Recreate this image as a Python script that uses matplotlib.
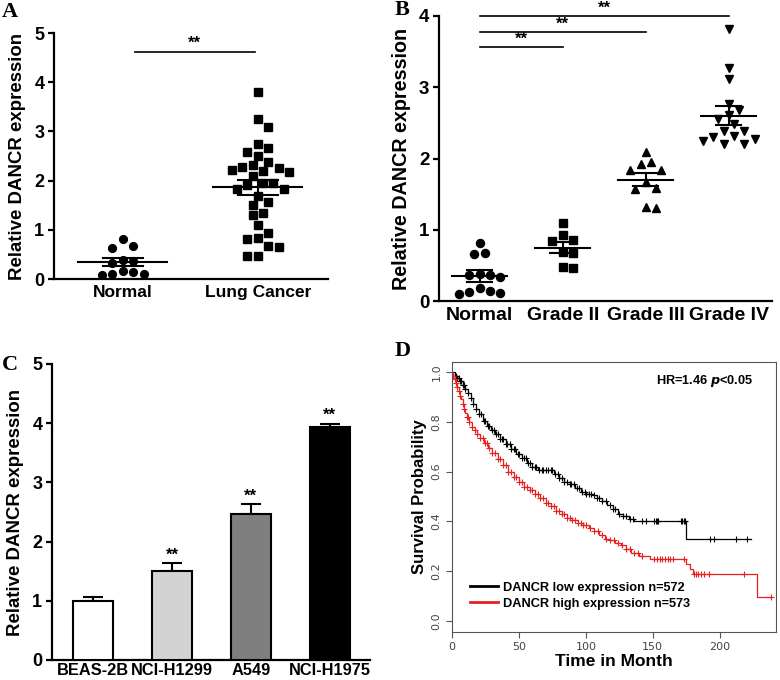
import numpy as np
import matplotlib
matplotlib.use("Agg")
import matplotlib.pyplot as plt
from matplotlib.lines import Line2D

plt.rcParams['font.family'] = ['Liberation Sans', 'DejaVu Sans']

# ---- panel A / B: scatter data ----
normal_a = [0.81, 0.64, 0.67, 0.37, 0.32, 0.39, 0.17, 0.10, 0.08, 0.10, 0.15]
cancer_a = [3.80, 3.26, 3.09, 2.74, 2.58, 2.67, 2.51, 2.37, 2.31, 2.26, 2.28,
            2.19, 2.17, 2.21, 2.09, 1.95, 1.96, 1.91, 1.83, 1.82, 1.69, 1.57,
            1.51, 1.34, 1.30, 1.09, 0.93, 0.81, 0.83, 0.66, 0.67, 0.47, 0.47]
groups_a = ["Normal", "Lung Cancer"]
mean_a = [0.35, 1.86]
sem_a = [0.08, 0.15]

groups_b = ["Normal", "Grade II", "Grade III", "Grade IV"]
normal_b = [0.82, 0.66, 0.68, 0.34, 0.36, 0.38, 0.36, 0.18, 0.12, 0.10, 0.11, 0.14]
grade2 = [1.10, 0.93, 0.84, 0.85, 0.69, 0.68, 0.46, 0.48]
grade3 = [2.09, 1.95, 1.92, 1.84, 1.84, 1.67, 1.58, 1.57, 1.30, 1.32]
grade4 = [3.82, 3.27, 3.12, 2.76, 2.68, 2.61, 2.55, 2.48, 2.38, 2.38,
          2.30, 2.24, 2.21, 2.21, 2.28, 2.31]
mean_b = [0.35, 0.75, 1.70, 2.60]
sem_b = [0.08, 0.08, 0.09, 0.13]
markers_b = ["o", "s", "^", "v"]

# ---- panel C: bars ----
cells = ["BEAS-2B", "NCI-H1299", "A549", "NCI-H1975"]
cell_vals = [1.00, 1.50, 2.47, 3.94]
cell_err = [0.07, 0.14, 0.16, 0.05]
cell_colors = ["white", "#d3d3d3", "#7f7f7f", "black"]

# ---- panel D: Kaplan-Meier steps ----
low_t = [0, 2, 4, 6, 8, 10, 12, 14, 16, 18, 20, 23, 26, 29, 32, 36, 40, 44, 48,
         52, 56, 60, 64, 72, 76, 80, 84, 88, 92, 96, 100, 105, 108, 112, 116,
         120, 124, 128, 132, 136, 175, 223]
low_s = [1.0, .985, .975, .962, .948, .932, .915, .895, .872, .85, .83, .805,
         .785, .765, .75, .73, .71, .69, .67, .655, .635, .62, .605, .605, .59,
         .575, .56, .55, .535, .52, .51, .505, .495, .48, .465, .45, .43, .42,
         .41, .40, .33, .33]
high_t = [0, 1, 2, 3, 4, 5, 6, 7, 8, 9, 10, 11, 13, 15, 17, 19, 21, 24, 27, 30,
          34, 38, 42, 46, 50, 54, 58, 62, 66, 70, 74, 78, 82, 86, 90, 94, 98,
          102, 106, 110, 114, 118, 122, 126, 130, 134, 140, 148, 175, 178, 180,
          228, 238]
high_s = [1.0, .985, .97, .955, .94, .925, .905, .89, .87, .85, .835, .82, .8,
          .78, .765, .75, .735, .715, .695, .675, .65, .625, .6, .58, .56, .54,
          .525, .51, .495, .475, .46, .44, .43, .415, .405, .395, .385, .375,
          .36, .345, .33, .325, .315, .305, .29, .275, .26, .25, .23, .21, .19,
          .095, .095]
low_cens = [2, 3, 4, 5, 6, 7, 8, 9, 10, 12, 14, 16, 18, 20, 22, 24, 25, 27, 28,
            30, 31, 33, 34, 36, 37, 38, 40, 41, 43, 44, 46, 47, 49, 50, 52, 54,
            55, 57, 58, 60, 62, 63, 65, 67, 68, 70, 72, 74, 75, 77, 79, 80, 82,
            84, 86, 88, 89, 91, 93, 95, 97, 99, 100, 102, 104, 106, 108, 110,
            112, 115, 118, 120, 122, 125, 128, 130, 133, 135, 142, 145, 151,
            152, 153, 154, 171, 172, 173, 174, 193, 196, 212, 220]
high_cens = [1, 2, 3, 4, 5, 6, 8, 9, 11, 12, 13, 15, 17, 19, 21, 23, 25, 26, 28,
             30, 32, 34, 36, 38, 40, 42, 44, 46, 48, 50, 52, 54, 56, 58, 60, 62,
             64, 66, 68, 70, 72, 74, 76, 78, 80, 82, 84, 86, 88, 90, 92, 94, 96,
             98, 100, 103, 106, 109, 112, 115, 118, 121, 124, 127, 130, 133,
             136, 139, 142, 151, 153, 155, 157, 159, 161, 163, 165, 173, 181,
             182, 184, 186, 188, 192, 218, 238]

fig = plt.figure(figsize=(7.8, 6.8), dpi=100)
W, H = 780.0, 680.0


def add_axes(l, t, r, b):
    return fig.add_axes([l / W, 1 - b / H, (r - l) / W, (b - t) / H])


def swarm(ax, x0, vals, gap=10.0, step=5.2):
    tr = ax.transData
    placed = []
    offs = np.zeros(len(vals))
    cands = [0.0]
    for n in range(1, 30):
        cands += [n * step, -n * step]
    for i in np.argsort(vals)[::-1]:
        cx, cy = tr.transform((x0, vals[i]))
        for c in cands:
            if all((cx + c - px) ** 2 + (cy - py) ** 2 >= gap ** 2 for px, py in placed):
                break
        placed.append((cx + c, cy))
        offs[i] = c
    ppu = tr.transform((1, 0))[0] - tr.transform((0, 0))[0]
    return x0 + offs / ppu


def style_prism(ax, ysize=13, xsize=12):
    for s in ["top", "right"]:
        ax.spines[s].set_visible(False)
    for s in ["left", "bottom"]:
        ax.spines[s].set_linewidth(1.6)
    ax.tick_params(axis='y', width=1.6, length=4, labelsize=ysize, pad=3)
    ax.tick_params(axis='x', length=0, labelsize=xsize, pad=4)
    for lab in ax.get_xticklabels() + ax.get_yticklabels():
        lab.set_fontweight('bold')


def mean_sem(ax, x, m, e, hw=0.33, cw=0.15):
    ax.plot([x - hw, x + hw], [m, m], color='black', lw=1.5, zorder=4)
    ax.plot([x, x], [m - e, m + e], color='black', lw=1.5, zorder=4)
    for yy in (m - e, m + e):
        ax.plot([x - cw, x + cw], [yy, yy], color='black', lw=1.5, zorder=4)


# ================= A =================
axA = add_axes(54, 33, 328, 279)
axA.set_xlim(-0.51, 1.52)
axA.set_ylim(0, 5)
for i, (vals, mk) in enumerate([(normal_a, "o"), (cancer_a, "s")]):
    xs = swarm(axA, i, vals)
    axA.plot(xs, vals, mk, color='black', ms=5.6 if mk == "o" else 5.2,
             ls='none', zorder=3)
    mean_sem(axA, i, mean_a[i], sem_a[i])
axA.plot([0.09, 0.98], [4.61, 4.61], color='black', lw=1.2, clip_on=False)
axA.text(0.53, 4.64, "**", ha='center', va='bottom', fontsize=12, fontweight='bold')
axA.set_xticks([0, 1])
axA.set_xticklabels(groups_a)
axA.set_yticks(range(6))
style_prism(axA, ysize=13, xsize=12.5)
axA.set_ylabel("Relative DANCR expression", fontsize=13.4, fontweight='bold', labelpad=6)

# ================= B =================
axB = add_axes(439, 16, 772, 301)
axB.set_xlim(-0.49, 3.52)
axB.set_ylim(0, 4)
for i, vals in enumerate([normal_b, grade2, grade3, grade4]):
    xs = swarm(axB, i, vals)
    axB.plot(xs, vals, markers_b[i], color='black', ms=5.8, ls='none', zorder=3,
             clip_on=False)
    mean_sem(axB, i, mean_b[i], sem_b[i])
for end, h in [(3, 4.0), (2, 3.78), (1, 3.56)]:
    axB.plot([0, end], [h, h], color='black', lw=1.2, clip_on=False)
    axB.text(end / 2.0, h + 0.005, "**", ha='center', va='bottom', fontsize=12,
             fontweight='bold', clip_on=False)
axB.set_xticks(range(4))
axB.set_xticklabels(groups_b)
axB.set_yticks(range(5))
style_prism(axB, ysize=13.5, xsize=14)
axB.set_ylabel("Relative DANCR expression", fontsize=14.2, fontweight='bold', labelpad=6)

# ================= C =================
axC = add_axes(52, 364, 370, 660)
axC.set_xlim(-0.52, 3.51)
axC.set_ylim(0, 5)
xc = np.arange(len(cells))
axC.errorbar(xc, cell_vals, yerr=[np.zeros(len(cells)), cell_err], fmt='none',
             ecolor='black', elinewidth=1.5, capsize=7, capthick=1.5, zorder=2)
axC.bar(xc, cell_vals, width=0.51, color=cell_colors, edgecolor='black',
        linewidth=1.5, zorder=3)
for i in range(1, len(cells)):
    axC.text(xc[i], cell_vals[i] + cell_err[i] + 0.01, "**", ha='center',
             va='bottom', fontsize=12, fontweight='bold')
axC.set_xticks(xc)
axC.set_xticklabels(cells)
axC.set_yticks(range(6))
style_prism(axC, ysize=13, xsize=11.8)
axC.tick_params(axis='x', pad=2)
axC.set_ylabel("Relative DANCR expression", fontsize=13.4, fontweight='bold', labelpad=6)

# ================= D =================
axD = add_axes(452, 362, 776, 632)
axD.set_xlim(0, 242)
axD.set_ylim(-0.044, 1.04)


def step_at(tt, ss, c):
    idx = np.searchsorted(tt, c, side='right') - 1
    return np.asarray(ss)[idx]


for tt, ss, cens, col in [(low_t, low_s, low_cens, 'black'),
                          (high_t, high_s, high_cens, '#e8211e')]:
    axD.plot(tt, ss, drawstyle='steps-post', color=col, lw=0.9)
    axD.plot(cens, step_at(tt, ss, cens), '+', color=col, ms=5, mew=0.8, ls='none')

for s in axD.spines.values():
    s.set_linewidth(0.8)
    s.set_color('#555555')
axD.set_xticks([0, 50, 100, 150, 200])
axD.set_yticks([0.0, 0.2, 0.4, 0.6, 0.8, 1.0])
axD.set_yticklabels(["0.0", "0.2", "0.4", "0.6", "0.8", "1.0"])
axD.tick_params(axis='both', labelsize=8, labelcolor='#444444', color='#555555',
                length=4, width=0.8)
for lab in axD.get_xticklabels() + axD.get_yticklabels():
    lab.set_fontfamily('DejaVu Sans')
for lab in axD.get_yticklabels():
    lab.set_rotation(90)
    lab.set_va('center')
axD.set_xlabel("Time in Month", fontsize=12.5, fontweight='bold', labelpad=1)
axD.set_ylabel("Survival Probability", fontsize=12, fontweight='bold', labelpad=3)
axD.text(0.93, 0.93, r"HR=1.46 $\boldsymbol{p}$<0.05", transform=axD.transAxes,
         ha='right', va='center', fontsize=9.2, fontweight='bold')
handles = [Line2D([], [], color='black', lw=2),
           Line2D([], [], color='#e8211e', lw=2)]
axD.legend(handles, ["DANCR low expression n=572", "DANCR high expression n=573"],
           loc='lower left', bbox_to_anchor=(0.02, 0.04), frameon=False,
           prop={'weight': 'bold', 'size': 9.2}, handlelength=2.2,
           handletextpad=0.4, labelspacing=0.3)

# panel letters
for txt, x, y in [("A", 2, 2), ("B", 395, 0), ("C", 2, 355), ("D", 395, 341)]:
    fig.text(x / W, 1 - y / H, txt, ha='left', va='top', fontsize=16,
             fontweight='bold', family='Liberation Serif')

fig.savefig("out.png", dpi=100)
